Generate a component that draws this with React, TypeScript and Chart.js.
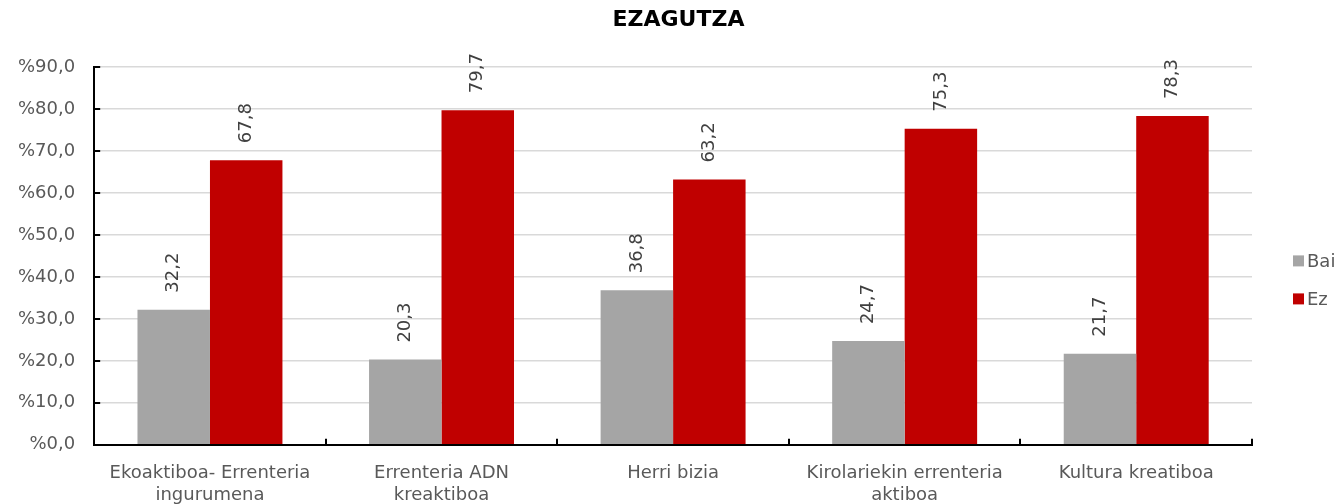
import React, { useEffect, useRef } from "react";
import { Chart, registerables } from "chart.js";

Chart.register(...registerables);

const categories: (string | string[])[] = [
  ["Ekoaktiboa- Errenteria", "ingurumena"],
  ["Errenteria ADN", "kreaktiboa"],
  "Herri bizia",
  ["Kirolariekin errenteria", "aktiboa"],
  "Kultura kreatiboa",
];
const baiValues = [32.2, 20.3, 36.8, 24.7, 21.7];
const ezValues = [67.8, 79.7, 63.2, 75.3, 78.3];
const seriesNames = ["Bai", "Ez"];
const seriesColors = ["#a5a5a5", "#c00000"];
const titleText = "EZAGUTZA";

const FONT = "'DejaVu Sans', Verdana, sans-serif";
const fmt = (v: number) => "%" + v.toFixed(1).replace(".", ",");
const fmtLabel = (v: number) => v.toFixed(1).replace(".", ",");

const labelPlugin = {
  id: "barLabels",
  afterDatasetsDraw(chart: any) {
    const ctx = chart.ctx;
    ctx.save();
    ctx.font = `18px ${FONT}`;
    ctx.fillStyle = "#404040";
    chart.data.datasets.forEach((ds: any, di: number) => {
      const meta = chart.getDatasetMeta(di);
      meta.data.forEach((el: any, i: number) => {
        const v = ds.data[i];
        ctx.save();
        ctx.translate(el.x, el.y - 17);
        ctx.rotate(-Math.PI / 2);
        ctx.textAlign = "left";
        ctx.textBaseline = "middle";
        ctx.fillText(fmtLabel(v), 0, 0);
        ctx.restore();
      });
    });
    ctx.restore();
  },
};

const decorPlugin = {
  id: "decor",
  afterDraw(chart: any) {
    const ctx = chart.ctx;
    const x = chart.scales.x;
    const y = chart.scales.y;
    const area = chart.chartArea;
    ctx.save();
    ctx.strokeStyle = "#000000";
    ctx.lineWidth = 2;
    // y ticks (inside)
    y.ticks.forEach((t: any) => {
      const py = Math.round(y.getPixelForValue(t.value));
      ctx.beginPath();
      ctx.moveTo(area.left, py);
      ctx.lineTo(area.left + 6, py);
      ctx.stroke();
    });
    // x ticks at category boundaries (inside)
    const n = categories.length;
    for (let i = 1; i <= n; i++) {
      let px: number;
      if (i === n) px = area.right;
      else px = (x.getPixelForValue(i - 1) + x.getPixelForValue(i)) / 2;
      px = Math.round(px);
      ctx.beginPath();
      ctx.moveTo(px, area.bottom);
      ctx.lineTo(px, area.bottom - 6);
      ctx.stroke();
    }
    // title
    ctx.fillStyle = "#000000";
    ctx.font = `bold 22px ${FONT}`;
    ctx.textAlign = "center";
    ctx.textBaseline = "middle";
    ctx.fillText(titleText, chart.width / 2 + 8, 20);
    // legend
    ctx.font = `18px ${FONT}`;
    ctx.textAlign = "left";
    const midY = (area.top + area.bottom) / 2 + 24;
    const lx = area.right + 41;
    chart.data.datasets.forEach((ds: any, i: number) => {
      const cy = midY + (i - 0.5) * 38;
      ctx.fillStyle = ds.backgroundColor;
      ctx.fillRect(lx, cy - 5.5, 11, 11);
      ctx.fillStyle = "#595959";
      ctx.fillText(ds.label, lx + 14, cy + 1);
    });
    ctx.restore();
  },
};

export default function App() {
  const ref = useRef<HTMLCanvasElement | null>(null);
  useEffect(() => {
    document.body.style.margin = "0";
    if (!ref.current) return;
    const chart = new Chart(ref.current, {
      type: "bar",
      data: {
        labels: categories,
        datasets: [
          {
            label: seriesNames[0],
            data: baiValues,
            backgroundColor: seriesColors[0],
            barPercentage: 1,
            categoryPercentage: 0.626,
          },
          {
            label: seriesNames[1],
            data: ezValues,
            backgroundColor: seriesColors[1],
            barPercentage: 1,
            categoryPercentage: 0.626,
          },
        ],
      },
      options: {
        responsive: false,
        animation: false,
        devicePixelRatio: 1,
        layout: { padding: { top: 67, right: 89, left: -1, bottom: -20 } },
        plugins: {
          title: { display: false },
          legend: { display: false },
          tooltip: { enabled: false },
        },
        scales: {
          x: {
            grid: { display: true, drawOnChartArea: false, drawTicks: false, offset: true },
            border: { display: true, color: "#000000", width: 2 },
            ticks: {
              color: "#595959",
              font: { family: FONT, size: 18 },
              padding: 18,
              maxRotation: 0,
              autoSkip: false,
            },
          },
          y: {
            min: 0,
            max: 90,
            grid: { color: "#d9d9d9", lineWidth: 1.5, drawTicks: false },
            border: { display: true, color: "#000000", width: 2 },
            ticks: {
              stepSize: 10,
              color: "#595959",
              font: { family: FONT, size: 18 },
              padding: 19,
              callback: (v: any) => fmt(Number(v)),
            },
          },
        },
      },
      plugins: [labelPlugin, decorPlugin],
    });
    return () => chart.destroy();
  }, []);
  return (
    <div style={{ width: 1341, height: 504 }}>
      <canvas ref={ref} width={1341} height={504} style={{ display: "block" }} />
    </div>
  );
}
